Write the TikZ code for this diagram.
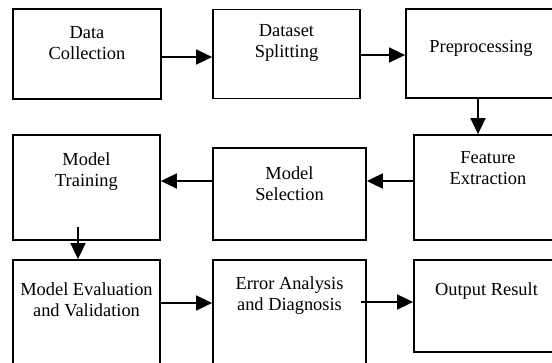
\documentclass[tikz,border=0pt]{standalone}
\usepackage{fontspec}
\setmainfont{Liberation Serif}
\usetikzlibrary{arrows.meta,positioning}
\tikzset{stage/.style={rectangle,draw=black,line width=1.8pt,inner sep=0pt,minimum width=148pt}}
\tikzset{stageText/.style={align=center,inner sep=0pt,font=\fontsize{18.4pt}{21pt}\selectfont}}
\tikzset{toArrow/.style={-{Triangle[length=16pt,width=15pt]},line width=1.8pt}}

\begin{document}
\begin{tikzpicture}[x=1pt,y=-1pt]
\useasboundingbox (0,0) rectangle (552,362);
\clip (0,0) rectangle (552,362);
% first row
\node (coll) [stage, minimum height=90pt] at (87,54) {};
\node (split) [stage, minimum width=147pt, minimum height=89pt] at (286.5,54) {};
\node (prep) [stage, minimum width=150pt, minimum height=89pt] at (481,53.5) {};
% second row
\node (feat) [stage, minimum height=105pt] at (488,187.5) {};
\node (sel) [stage, minimum width=153pt, minimum height=92pt] at (289.5,194) {};
\node (train) [stage, minimum width=147pt, minimum height=105pt] at (86.5,187.5) {};
% third row
\node (eval) [stage, minimum width=147pt, minimum height=110pt] at (86.5,315) {};
\node (err) [stage, minimum width=153pt, minimum height=110pt] at (289.5,315) {};
\node (out) [stage, minimum height=92pt] at (488,306) {};
% texts
\node (collText) [stageText, below=18pt of coll.north] {Data\\Collection};
\node (splitText) [stageText, below=16pt of split.north] {Dataset\\Splitting};
\node (prepText) [stageText, below=32pt of prep.north] {Preprocessing};
\node (featText) [stageText, below=17pt of feat.north] {Feature\\Extraction};
\node (selText) [stageText, below=19pt of sel.north] {Model\\Selection};
\node (trainText) [stageText, below=18pt of train.north] {Model\\Training};
\node (evalText) [stageText, below=23pt of eval.north] {Model Evaluation\\and Validation};
\node (errText) [stageText, below=17pt of err.north] {Error Analysis\\and Diagnosis};
\node (outText) [stageText, below=23pt of out.north, xshift=-1.5pt] {Output Result};
% arrows
\coordinate (rowOne) at (0,57);
\coordinate (rowOneB) at (0,55);
\coordinate (rowTwo) at (0,181);
\coordinate (rowThree) at (0,303);
\coordinate (colRight) at (478,0);
\coordinate (trainOut) at (78,227);
\coordinate (errOut) at (361,302);
\draw [toArrow] (coll.east |- rowOne) -- (split.west |- rowOne);
\draw [toArrow] (split.east |- rowOneB) -- (prep.west |- rowOneB);
\draw [toArrow] (prep.south -| colRight) -- (feat.north -| colRight);
\draw [toArrow] (feat.west |- rowTwo) -- (sel.east |- rowTwo);
\draw [toArrow] (sel.west |- rowTwo) -- (train.east |- rowTwo);
\draw [toArrow] (trainOut) -- (trainOut |- eval.north);
\draw [toArrow] (eval.east |- rowThree) -- (err.west |- rowThree);
\draw [toArrow] (errOut) -- (errOut -| out.west);
\end{tikzpicture}
\end{document}
